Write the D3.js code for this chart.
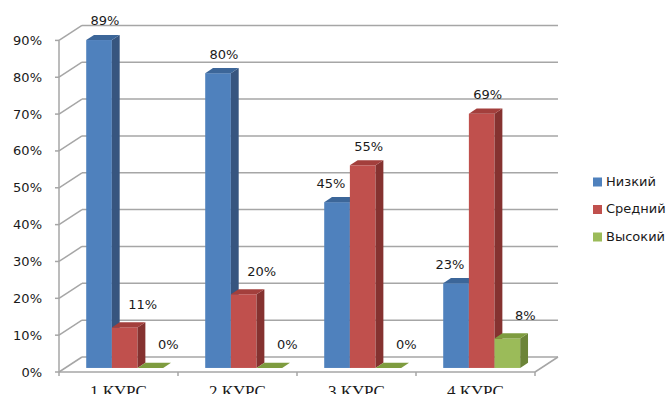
<!DOCTYPE html>
<html>
<head>
<meta charset="utf-8">
<script src="https://cdn.jsdelivr.net/npm/d3@7"></script>
<style>
  body { margin: 0; background: #fff; }
  svg { display: block; }
</style>
</head>
<body>
<div id="chart"></div>
<script>
const categories = ["1 КУРС", "2 КУРС", "3 КУРС", "4 КУРС"];
const seriesNames = ["Низкий", "Средний", "Высокий"];
const low = [0.89, 0.80, 0.45, 0.23];
const mid = [0.11, 0.20, 0.55, 0.69];
const high = [0, 0, 0, 0.08];
const yTicks = [0, 0.1, 0.2, 0.3, 0.4, 0.5, 0.6, 0.7, 0.8, 0.9];

const series = [low, mid, high];
const colors = [
  {front: "#4F81BD", top: "#3C6699", side: "#37557F"},
  {front: "#C0504D", top: "#A33F3C", side: "#853230"},
  {front: "#9BBB59", top: "#7E9C3F", side: "#6C8438"}
];

const width = 672, height = 394;
const gridColor = "#A6A6A6";
const depth = {dx: 23, dy: -15};          // full wall depth
const barT0 = 0.27, barT1 = 0.61;         // bar placed inside depth
const off = t => [depth.dx * t, depth.dy * t];

const svg = d3.select("#chart").append("svg")
  .attr("width", width).attr("height", height);

const x = d3.scaleBand().domain(categories).range([59, 535]);
const y = d3.scaleLinear().domain([0, 0.9]).range([372, 40.4]);
const inner = d3.scaleBand().domain(d3.range(series.length))
  .range([21, x.bandwidth() - 21]);

const lineG = svg.append("g").attr("stroke", gridColor).attr("stroke-width", 1.5).attr("fill", "none");
const [bx, by] = off(1);
const xL = x.range()[0], xR = x.range()[1];

// back wall gridlines
lineG.selectAll(".grid").data(yTicks).join("line")
  .attr("x1", xL + bx).attr("x2", xR + bx)
  .attr("y1", d => y(d) + by).attr("y2", d => y(d) + by);
// left wall diagonals
lineG.selectAll(".diag").data(yTicks).join("line")
  .attr("x1", xL).attr("x2", xL + bx)
  .attr("y1", d => y(d)).attr("y2", d => y(d) + by);
// front axis line
lineG.append("line").attr("x1", xL).attr("x2", xL).attr("y1", y(0.9)).attr("y2", y(0));
// y ticks
lineG.selectAll(".yt").data(yTicks).join("line")
  .attr("x1", xL - 4).attr("x2", xL).attr("y1", d => y(d)).attr("y2", d => y(d));
// floor front edge + right diagonal
lineG.append("line").attr("x1", xL).attr("x2", xR).attr("y1", y(0)).attr("y2", y(0));
lineG.append("line").attr("x1", xR).attr("x2", xR + bx).attr("y1", y(0)).attr("y2", y(0) + by);
// category ticks
lineG.selectAll(".xt").data(d3.range(categories.length + 1)).join("line")
  .attr("x1", i => xL + i * x.step()).attr("x2", i => xL + i * x.step())
  .attr("y1", y(0)).attr("y2", y(0) + 4);

// y labels
svg.append("g").selectAll("text").data(yTicks).join("text")
  .attr("x", 42).attr("y", d => y(d) + 1)
  .attr("text-anchor", "end").attr("dominant-baseline", "middle")
  .attr("font-family", "DejaVu Sans").attr("font-size", 13).attr("fill", "#1a1a1a")
  .text(d => d3.format(".0%")(d));

// x labels (cut by the bottom edge, as in the original)
svg.append("g").selectAll("text").data(categories).join("text")
  .attr("x", d => x(d) + x.bandwidth() / 2).attr("y", 397)
  .attr("text-anchor", "middle")
  .attr("font-family", "Liberation Serif").attr("font-size", 17).attr("fill", "#1a1a1a")
  .text(d => d);

// bars
const [f0x, f0y] = off(barT0);
const [f1x, f1y] = off(barT1);
const sdx = f1x - f0x, sdy = f1y - f0y;
const barsG = svg.append("g");
const labels = [];

categories.forEach((cat, ci) => {
  series.forEach((vals, si) => {
    const v = vals[ci];
    const xl = x(cat) + inner(si) + f0x;
    const xr = xl + inner.bandwidth();
    const yb = y(0) + f0y;
    const yt = y(v) + f0y;
    const c = colors[si];
    const g = barsG.append("g");
    if (v > 0) {
      g.append("rect").attr("x", xl).attr("y", yt)
        .attr("width", xr - xl).attr("height", yb - yt).attr("fill", c.front);
      g.append("polygon").attr("fill", c.side)
        .attr("points", [[xr, yt], [xr + sdx, yt + sdy], [xr + sdx, yb + sdy], [xr, yb]].join(" "));
    }
    g.append("polygon").attr("fill", c.top)
      .attr("points", [[xl, yt], [xl + sdx, yt + sdy], [xr + sdx, yt + sdy], [xr, yt]].join(" "));

    // nudge labels away from taller neighbours
    const next = series[si + 1], prev = series[si - 1];
    let shift = 0, lift = 13;
    if (next && next[ci] > v) shift = -12;
    else if (prev && prev[ci] > v) { shift = 12; lift = 17; }
    labels.push({x: (xl + xr) / 2 + 6 + shift, y: yt + sdy - lift, v: v});
  });
});

svg.append("g").selectAll("text").data(labels).join("text")
  .attr("x", d => d.x).attr("y", d => d.y)
  .attr("text-anchor", "middle").attr("dominant-baseline", "middle")
  .attr("font-family", "DejaVu Sans").attr("font-size", 13).attr("fill", "#1a1a1a")
  .text(d => d3.format(".0%")(d.v));

// legend
const leg = svg.append("g").selectAll("g").data(seriesNames).join("g")
  .attr("transform", (d, i) => `translate(593, ${182 + i * 27.5})`);
leg.append("rect").attr("x", 0).attr("y", -4.5).attr("width", 9).attr("height", 9)
  .attr("fill", (d, i) => colors[i].front);
leg.append("text").attr("x", 13).attr("y", 0).attr("dominant-baseline", "middle")
  .attr("font-family", "DejaVu Sans").attr("font-size", 13).attr("fill", "#1a1a1a")
  .text(d => d);
</script>
</body>
</html>
